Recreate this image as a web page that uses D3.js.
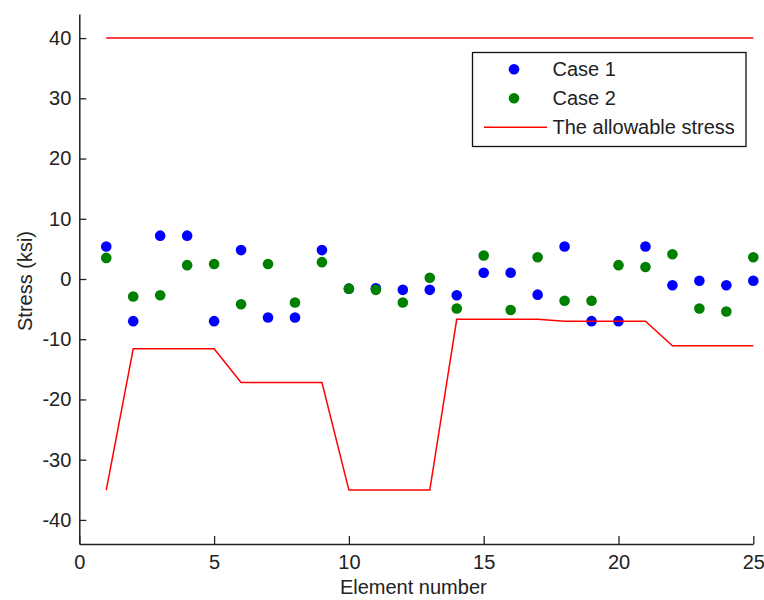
<!DOCTYPE html>
<html>
<head>
<meta charset="utf-8">
<script src="https://cdn.jsdelivr.net/npm/d3@7"></script>
<style>
  html, body { margin: 0; padding: 0; background: #fff; }
  svg { display: block; }
  text { font-family: "Liberation Sans", Arial, sans-serif; fill: #222; }
</style>
</head>
<body>
<svg id="chart" width="764" height="600"></svg>
<script>
// Element numbers along the truss
const elements = [1, 2, 3, 4, 5, 6, 7, 8, 9, 10, 11, 12, 13, 14, 15, 16, 17, 18, 19, 20, 21, 22, 23, 24, 25];

// Member stresses (ksi) for the two load cases
const case1 = [5.4, -7.0, 7.2, 7.2, -7.0, 4.8, -6.4, -6.4, 4.8, -1.6, -1.55, -1.8, -1.8,
               -2.7, 1.05, 1.05, -2.6, 5.4, -7.0, -7.0, 5.4, -1.05, -0.3, -1.05, -0.3];
const case2 = [3.5, -2.9, -2.7, 2.3, 2.5, -4.2, 2.5, -3.9, 2.8, -1.6, -1.8, -3.9, 0.2,
               -4.9, 3.9, -5.15, 3.6, -3.6, -3.6, 2.3, 2.0, 4.1, -4.9, -5.4, 3.6];

// Allowable stresses: tension limit and compression (buckling) limit per element
const allowTension = [40, 40, 40, 40, 40, 40, 40, 40, 40, 40, 40, 40, 40,
                      40, 40, 40, 40, 40, 40, 40, 40, 40, 40, 40, 40];
const allowCompression = [-35.05, -11.6, -11.6, -11.6, -11.6, -17.2, -17.2, -17.2, -17.2,
                          -35.05, -35.05, -35.05, -35.05, -6.7, -6.7, -6.7, -6.7,
                          -7.0, -7.0, -7.0, -7.0, -11.1, -11.1, -11.1, -11.1];

const xTicks = [0, 5, 10, 15, 20, 25];
const yTicks = [-40, -30, -20, -10, 0, 10, 20, 30, 40];

const legendItems = [
  { label: "Case 1", type: "dot", color: "#0000ff" },
  { label: "Case 2", type: "dot", color: "#008000" },
  { label: "The allowable stress", type: "line", color: "#ff0000" }
];

const svg = d3.select("#chart");
const plotLeft = 79.3, plotRight = 753.3, plotTop = 14, plotBottom = 544;
const fontSize = 20;

const x = d3.scaleLinear().domain([0, 25]).range([plotLeft, plotRight]);
const y = d3.scaleLinear().domain([-44, 44]).range([plotBottom, plotTop]);

// Axes (ticks point inward, no box); labels use a plain hyphen for negatives
const plain = d => String(d);
const xAxis = d3.axisBottom(x).tickValues(xTicks).tickFormat(plain)
  .tickSizeInner(-8).tickSizeOuter(0).tickPadding(11);
const yAxis = d3.axisLeft(y).tickValues(yTicks).tickFormat(plain)
  .tickSizeInner(-7).tickSizeOuter(0).tickPadding(8);

const gx = svg.append("g").attr("transform", `translate(0,${plotBottom})`).call(xAxis);
const gy = svg.append("g").attr("transform", `translate(${plotLeft},0)`).call(yAxis);
[gx, gy].forEach(g => {
  g.select(".domain").attr("stroke", "#222").attr("stroke-width", 1.5);
  g.selectAll(".tick line").attr("stroke", "#222").attr("stroke-width", 1.3);
  g.selectAll(".tick text").style("font-size", fontSize + "px")
    .style("font-family", "'Liberation Sans', Arial, sans-serif").attr("fill", "#222");
});

// Axis titles
svg.append("text")
  .attr("x", (plotLeft + plotRight) / 2 - 3).attr("y", 594)
  .attr("text-anchor", "middle").style("font-size", fontSize + "px")
  .text("Element number");
svg.append("text")
  .attr("transform", `translate(32,${y(0) + 2}) rotate(-90)`)
  .attr("text-anchor", "middle").style("font-size", fontSize + "px")
  .text("Stress (ksi)");

// Scatter points
const plot = svg.append("g");
plot.selectAll("circle.c1").data(elements).join("circle")
  .attr("class", "c1")
  .attr("cx", (d) => x(d)).attr("cy", (d, i) => y(case1[i]))
  .attr("r", 5.3).attr("fill", "#0000ff");
plot.selectAll("circle.c2").data(elements).join("circle")
  .attr("class", "c2")
  .attr("cx", (d) => x(d)).attr("cy", (d, i) => y(case2[i]))
  .attr("r", 5.3).attr("fill", "#008000");

// Allowable stress limits
const line = d3.line().x(d => x(d[0])).y(d => y(d[1]));
[allowTension, allowCompression].forEach(arr => {
  plot.append("path")
    .datum(elements.map((e, i) => [e, arr[i]]))
    .attr("d", line).attr("fill", "none")
    .attr("stroke", "#ff0000").attr("stroke-width", 1.5);
});

// Legend
const lg = svg.append("g");
lg.append("rect").attr("x", 472.5).attr("y", 52.5).attr("width", 273.5).attr("height", 94)
  .attr("fill", "#fff").attr("stroke", "#111").attr("stroke-width", 1.3);
legendItems.forEach((item, i) => {
  const cy = 69.3 + i * 29;
  if (item.type === "dot") {
    lg.append("circle").attr("cx", 514).attr("cy", cy).attr("r", 5.3).attr("fill", item.color);
  } else {
    lg.append("line").attr("x1", 484).attr("x2", 547).attr("y1", cy).attr("y2", cy)
      .attr("stroke", item.color).attr("stroke-width", 1.5);
  }
  lg.append("text").attr("x", 552.5).attr("y", cy + 7)
    .style("font-size", fontSize + "px").text(item.label);
});
</script>
</body>
</html>
